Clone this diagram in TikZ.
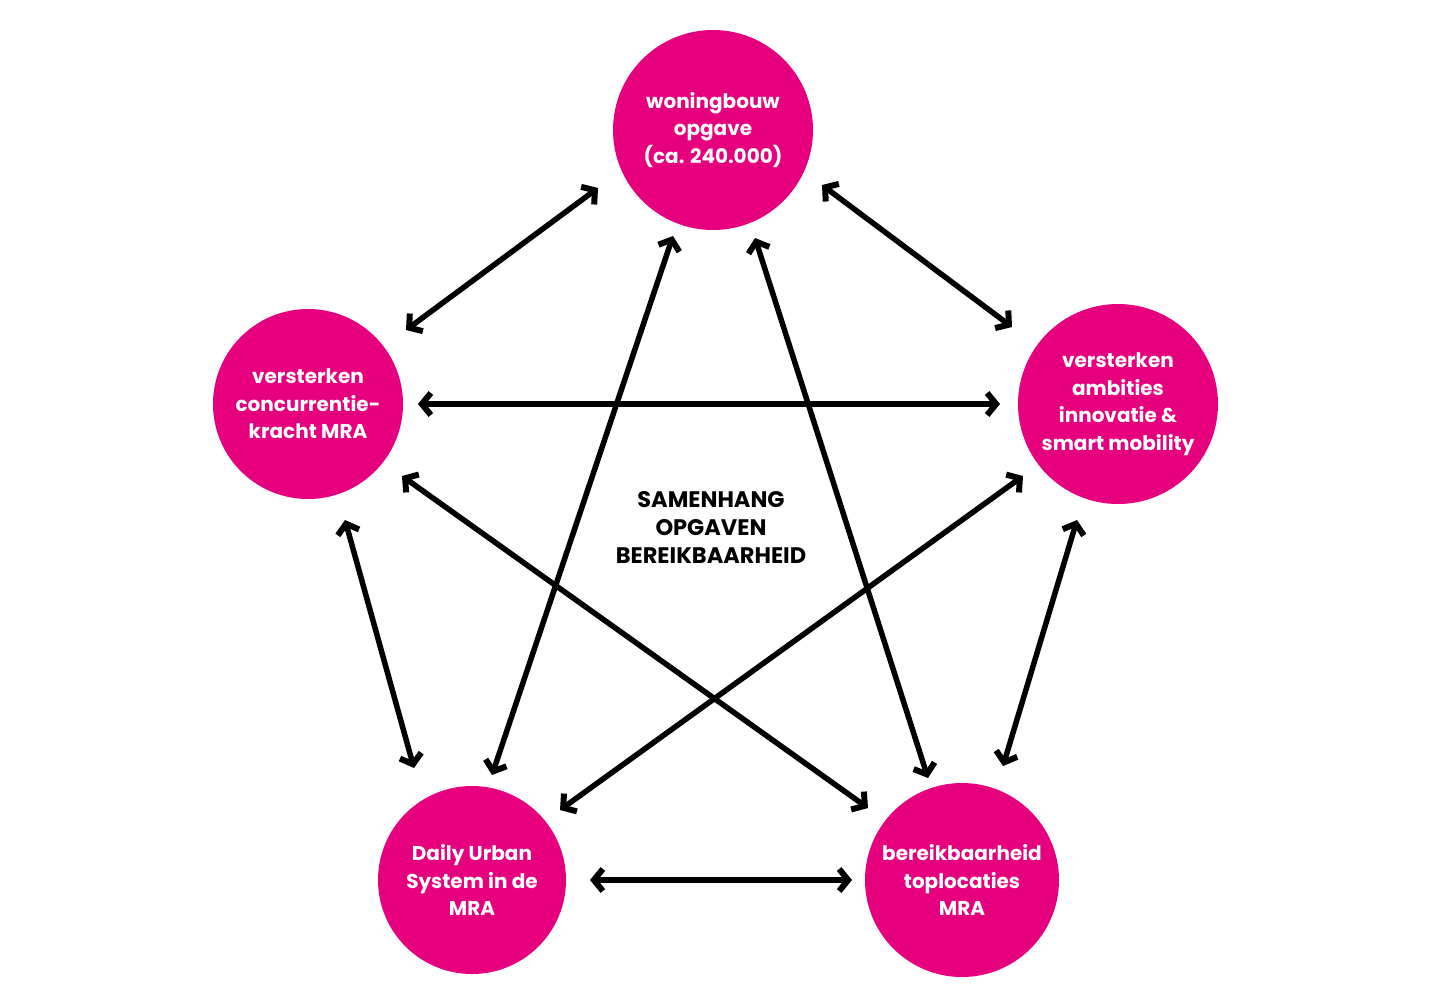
\documentclass[tikz,border=0pt]{standalone}
\usepackage{fontspec}
\setmainfont{Poppins}
\usetikzlibrary{arrows.meta}
\definecolor{mag}{HTML}{E6007E}
\begin{document}
\begin{tikzpicture}[x=1pt,y=1pt,
  bubble/.style={circle,fill=mag,inner sep=0pt,outer sep=0pt,text=white,align=center,
    font=\bfseries\fontsize{20}{27.5}\selectfont},
  tip/.tip={Straight Barb[length=9pt,width=22pt,line width=6pt]},
  arr/.style={line width=5.5pt,tip-tip},
  title/.style={align=center,font=\bfseries\fontsize{22.5}{28}\selectfont}]
\useasboundingbox (0,0) rectangle (1440,-997);
\node[bubble,minimum size=200pt] (top) at (713,-130) {woningbouw\\opgave\\(ca. 240.000)};
\node[bubble,minimum size=190pt] (left) at (308,-404) {versterken\\concurrentie-\\kracht MRA};
\node[bubble,minimum size=200pt] (right) at (1118,-404) {versterken\\ambities\\innovatie \&\\smart mobility};
\node[bubble,minimum size=188pt] (bl) at (472,-880) {Daily Urban\\System in de\\MRA};
\node[bubble,minimum size=194pt] (br) at (962,-880) {bereikbaarheid\\toplocaties\\MRA};
\node[title] (mid) at (711,-527) {SAMENHANG\\OPGAVEN\\BEREIKBAARHEID};
\draw[arr] ([shift={(-115,-58)}]top.center) -- ([shift={(98,74)}]left.center);
\draw[arr] ([shift={(109,-55)}]top.center) -- ([shift={(-106,77)}]right.center);
\draw[arr] ([shift={(110,0)}]left.center) -- ([shift={(-118,0)}]right.center);
\draw[arr] ([shift={(37,-116)}]left.center) -- ([shift={(-58,112)}]bl.center);
\draw[arr] ([shift={(-41,-116)}]right.center) -- ([shift={(41,114)}]br.center);
\draw[arr] ([shift={(118,0)}]bl.center) -- ([shift={(-110,0)}]br.center);
\draw[arr] ([shift={(-40,-106)}]top.center) -- ([shift={(20,105)}]bl.center);
\draw[arr] ([shift={(42,-108)}]top.center) -- ([shift={(-34,102)}]br.center);
\draw[arr] ([shift={(94,-72)}]left.center) -- ([shift={(-94,72)}]br.center);
\draw[arr] ([shift={(-95,-72)}]right.center) -- ([shift={(88,70)}]bl.center);
\end{tikzpicture}
\end{document}
